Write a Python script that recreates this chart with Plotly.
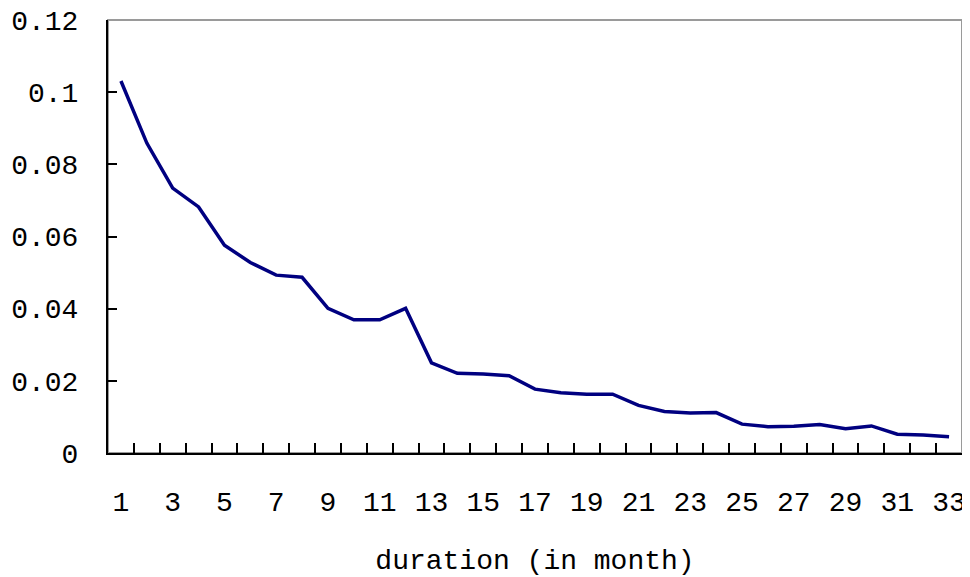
import plotly.graph_objects as go

months = list(range(1, 34))
hazard = [0.1031, 0.0859, 0.0734, 0.0682, 0.0576, 0.0528, 0.0493, 0.0487, 0.0401, 0.0369,
          0.0369, 0.0401, 0.0250, 0.0221, 0.0219, 0.0214, 0.0177, 0.0167, 0.0163, 0.0163,
          0.0132, 0.0115, 0.0111, 0.0112, 0.0080, 0.0073, 0.0074, 0.0079, 0.0067, 0.0075,
          0.0052, 0.0050, 0.0045]
x_tick_labels = [str(m) for m in months if m % 2 == 1]
y_ticks = [0, 0.02, 0.04, 0.06, 0.08, 0.1, 0.12]
y_tick_labels = ["0", "0.02", "0.04", "0.06", "0.08", "0.1", "0.12"]

FONT = "Liberation Mono"

fig = go.Figure()
fig.add_trace(go.Scatter(x=months, y=hazard, mode="lines",
                         line=dict(color="#000080", width=3.5), showlegend=False))

boundaries = [m + 0.5 for m in months[:-1]]
fig.update_xaxes(
    range=[months[0] - 0.5, months[-1] + 0.5], automargin=False,
    tickmode="array", tickvals=[int(t) for t in x_tick_labels], ticktext=x_tick_labels,
    ticks="", showgrid=False, zeroline=False,
    showline=True, linecolor="black", linewidth=2,
    ticklabelstandoff=22,
    minor=dict(tickmode="array", tickvals=boundaries, ticks="inside", ticklen=10,
               tickcolor="black", tickwidth=2, showgrid=False),
    tickfont=dict(family=FONT, size=28, color="black"),
    title=dict(text="duration (in month)", font=dict(family=FONT, size=28, color="black"),
               standoff=35),
)
fig.update_yaxes(
    range=[0, 0.12001], automargin=False, tickmode="array", tickvals=y_ticks,
    ticktext=y_tick_labels, ticklabeloverflow="allow",
    ticks="inside", ticklen=9, tickwidth=2, tickcolor="black",
    showgrid=False, zeroline=False,
    showline=True, linecolor="black", linewidth=2,
    ticklabelstandoff=22,
    tickfont=dict(family=FONT, size=28, color="black"),
)
fig.add_shape(type="rect", xref="paper", yref="paper", x0=0, y0=0, x1=1, y1=1,
              line=dict(color="#9a9a9a", width=2), layer="below")
# the page body adds an 8px offset, so the figure is sized to end at the window edge
fig.update_layout(
    width=962, height=569,
    margin=dict(l=100, r=8, t=12, b=124),
    plot_bgcolor="white", paper_bgcolor="white",
)
fig.write_html("out.html")
